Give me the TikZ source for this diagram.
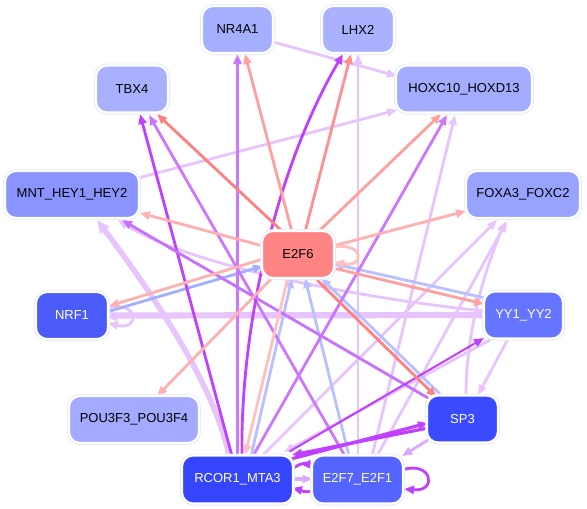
\documentclass[tikz,border=0pt]{standalone}
\usepackage{fontspec}
\setmainfont{Liberation Sans}
\usetikzlibrary{arrows.meta,calc}
\pgfdeclarelayer{background}
\pgfsetlayers{background,main}
\definecolor{cRing}{HTML}{E6E9FF}
\definecolor{fNR}{HTML}{A5AFFF}
\definecolor{fLHX}{HTML}{AAB2FF}
\definecolor{fTBX}{HTML}{A8B0FF}
\definecolor{fHOX}{HTML}{A4ACFF}
\definecolor{fMNT}{HTML}{8A94FF}
\definecolor{fFOX}{HTML}{98A2FF}
\definecolor{fPOU}{HTML}{A3AAFF}
\definecolor{fNRF}{HTML}{4B5BF7}
\definecolor{fYY}{HTML}{6575FF}
\definecolor{fSP}{HTML}{3A4BFF}
\definecolor{fRC}{HTML}{3545FC}
\definecolor{fE2F7}{HTML}{5464FF}
\definecolor{fE2F6}{HTML}{FF8585}
\definecolor{sA}{HTML}{FF8080}
\definecolor{sB}{HTML}{FF9090}
\definecolor{sC}{HTML}{FFA0A0}
\definecolor{sD}{HTML}{FFB0B0}
\definecolor{sE}{HTML}{FFC0C0}
\definecolor{pA}{HTML}{BF40FF}
\definecolor{pB}{HTML}{CC77FF}
\definecolor{pC}{HTML}{C870FF}
\definecolor{cLav}{HTML}{E8C4FF}
\definecolor{cLavB}{HTML}{DDA8FF}
\definecolor{bA}{HTML}{A4AEFF}
\definecolor{bB}{HTML}{B8C0FF}
\tikzset{
  tf/.style={rectangle, rounded corners=11pt, minimum height=47pt, inner sep=0pt,
    font=\fontsize{13}{15}\selectfont, preaction={draw=cRing, line width=4pt},
    draw=white, line width=2.2pt},
  edge/.style={line width=2.8pt, -{Triangle[length=10pt,width=8pt]}},
}
\begin{document}
\begin{tikzpicture}[x=1pt,y=-1pt]
\useasboundingbox (0,0) rectangle (587,509);
\node[tf, fill=fNR, minimum width=71pt] (NR) at (237.5,29.5) {NR4A1};
\node[tf, fill=fLHX, minimum width=72pt] (LHX) at (358,29.5) {LHX2};
\node[tf, fill=fTBX, minimum width=72pt] (TBX) at (132,89) {TBX4};
\node[tf, fill=fHOX, minimum width=136pt] (HOX) at (464,89) {HOXC10\_HOXD13};
\node[tf, fill=fMNT, minimum width=134pt] (MNT) at (72,194.5) {MNT\_HEY1\_HEY2};
\node[tf, fill=fFOX, minimum width=114pt] (FOX) at (523,194.5) {FOXA3\_FOXC2};
\node[tf, fill=fE2F6, minimum width=72pt] (E2F6) at (298,254.5) {E2F6};
\node[tf, fill=fNRF, text=white, minimum width=72pt] (NRF) at (72,315.5) {NRF1};
\node[tf, fill=fYY, text=white, minimum width=79pt] (YY) at (523.5,315) {YY1\_YY2};
\node[tf, fill=fPOU, minimum width=130pt] (POU) at (134,419.5) {POU3F3\_POU3F4};
\node[tf, fill=fSP, text=white, minimum width=71pt] (SP3) at (462.5,419) {SP3};
\node[tf, fill=fRC, text=white, minimum width=111pt, minimum height=48pt] (RC) at (237.5,479.5) {RCOR1\_MTA3};
\node[tf, fill=fE2F7, text=white, minimum width=91pt, minimum height=48pt] (E2F7) at (357.5,479.5) {E2F7\_E2F1};
\begin{pgfonlayer}{background}
\fill[white] (0,0) rectangle (587,509);
% lavender
\draw[edge,cLav] ($(NR)+(35.5,12.5)$) -- ($(HOX)+(-67,-13)$);
\draw[edge,cLav] ($(MNT)+(66,-16.5)$) -- ($(HOX)+(-67,21)$);
\draw[edge,cLav] ($(E2F7)+(0.5,-23.5)$) -- ($(LHX)+(0,24.5)$);
\draw[edge,cLav] ($(E2F7)+(14.5,-23.5)$) -- ($(HOX)+(-9,26)$);
\draw[edge,cLav] ($(RC)+(24.5,-23.5)$) -- ($(FOX)+(-26,25.5)$);
\draw[edge,cLav] ($(E2F7)+(19.5,-23.5)$) -- ($(FOX)+(-16,26.5)$);
\draw[edge,cLav] ($(SP3)+(3.5,-23)$) .. controls (466,330) and (485,270) .. ($(FOX)+(-18,27.5)$);
\draw[edge,cLav] ($(YY)+(-38.5,-4)$) .. controls (400,303) and (200,272) .. ($(MNT)+(46,25.5)$);
\draw[edge,cLav,line width=5.5pt,-{Triangle[length=13pt,width=11pt]}] ($(RC)+(-8.5,-23.5)$) .. controls (215,385) and (150,290) .. ($(MNT)+(25,25.5)$);
\draw[edge,cLav] ($(NRF)+(35,-7.5)$) .. controls (140,300) and (140,331) .. ($(NRF)+(36,7.5)$);
\draw[edge,cLav,line width=3.2pt] ($(NRF)+(35,-1.5)$) -- ($(YY)+(-38.5,-1.5)$);
\draw[edge,cLav,line width=3.2pt] ($(YY)+(-38.5,1.5)$) -- ($(NRF)+(35,1.5)$);
\draw[edge,cLav] ($(YY)+(-33.5,25)$) -- ($(RC)+(46.5,-27.5)$);
\draw[edge,cLav] ($(YY)+(-15.5,24)$) -- ($(SP3)+(15.5,-24)$);
\draw[edge,cLavB] ($(SP3)+(-34.5,21)$) -- ($(E2F7)+(44.5,-23.5)$);
\draw[edge,cLavB,line width=4pt] ($(RC)+(54.5,-0.5)$) -- ($(E2F7)+(-45,-0.5)$);
% light blue
\draw[edge,bA] ($(NRF)+(38,-4.5)$) -- ($(E2F6)+(-35,11.5)$);
\draw[edge,bB] ($(YY)+(-38.5,-17)$) -- ($(E2F6)+(36,9.5)$);
\draw[edge,bB] ($(SP3)+(-22.5,-25)$) -- ($(E2F6)+(23,23.5)$);
\draw[edge,bB] ($(RC)+(13.5,-23.5)$) -- ($(E2F6)+(-6,23.5)$);
\draw[edge,bB] ($(E2F7)+(-8.5,-23.5)$) -- ($(E2F6)+(7,23.5)$);
% purple
\draw[edge,pB] ($(RC)+(0,-23.5)$) -- ($(NR)+(0,24.5)$);
\draw[edge,pB] ($(E2F7)+(-12.5,-23.5)$) -- ($(TBX)+(17,26)$);
\draw[edge,pA] ($(RC)+(-5.5,-23.5)$) -- ($(TBX)+(8,25)$);
\draw[edge,pA] ($(RC)+(4.5,-23.5)$) .. controls (240,330) and (275,170) .. ($(LHX)+(-15,24.5)$);
\draw[edge,pB] ($(RC)+(15.5,-23.5)$) -- ($(HOX)+(-17,26)$);
\draw[edge,pC] ($(SP3)+(-34.5,-21)$) -- ($(MNT)+(50,25.5)$);
\draw[edge,pA,line width=2pt] ($(RC)+(52,-28)$) -- ($(YY)+(-39.5,23)$);
\draw[edge,pA,line width=3.2pt] ($(RC)+(53.5,-20.5)$) -- ($(SP3)+(-34.5,4)$);
\draw[edge,pA,line width=3.2pt] ($(SP3)+(-34.5,9)$) -- ($(RC)+(54.5,-24.5)$);
\draw[edge,pA] ($(RC)+(54.5,-9.5)$) .. controls (298,463) and (307,463) .. ($(E2F7)+(-44.5,-9.5)$);
\draw[edge,pA] ($(E2F7)+(-44.5,10.5)$) .. controls (306,494) and (300,490) .. ($(RC)+(54.5,8.5)$);
\draw[edge,pA] ($(E2F7)+(44.5,-9.5)$) .. controls (432,460) and (438,492) .. ($(E2F7)+(46.5,9.5)$);
% salmon
\draw[edge,sA] ($(E2F6)+(-15,-22.5)$) -- ($(TBX)+(25,25)$);
\draw[edge,sC] ($(E2F6)+(-6,-22.5)$) -- ($(NR)+(7.5,24.5)$);
\draw[edge,sB] ($(E2F6)+(7,-22.5)$) -- ($(LHX)+(-7,24.5)$);
\draw[edge,sC] ($(E2F6)+(20,-22.5)$) -- ($(HOX)+(-23,25)$);
\draw[edge,sD] ($(E2F6)+(35,-8.5)$) -- ($(FOX)+(-57,16.5)$);
\draw[edge,sD] ($(E2F6)+(-35,-8.5)$) -- ($(MNT)+(68,18.5)$);
\draw[edge,sD] ($(E2F6)+(-35,4.5)$) -- ($(NRF)+(37,-9.5)$);
\draw[edge,sD] ($(E2F6)+(-25,22.5)$) -- ($(POU)+(23,-23.5)$);
\draw[edge,sE] ($(E2F6)+(-10,22.5)$) -- ($(RC)+(7.5,-24.5)$);
\draw[edge,sC] ($(E2F6)+(35,13.5)$) -- ($(YY)+(-39.5,-11)$);
\draw[edge,sA] ($(E2F6)+(19,25.5)$) -- ($(SP3)+(-26,-22)$);
\draw[edge,sE] ($(E2F6)+(35,-7.5)$) .. controls (365,242) and (365,268) .. ($(E2F6)+(36,7.5)$);
\end{pgfonlayer}
\end{tikzpicture}
\end{document}
